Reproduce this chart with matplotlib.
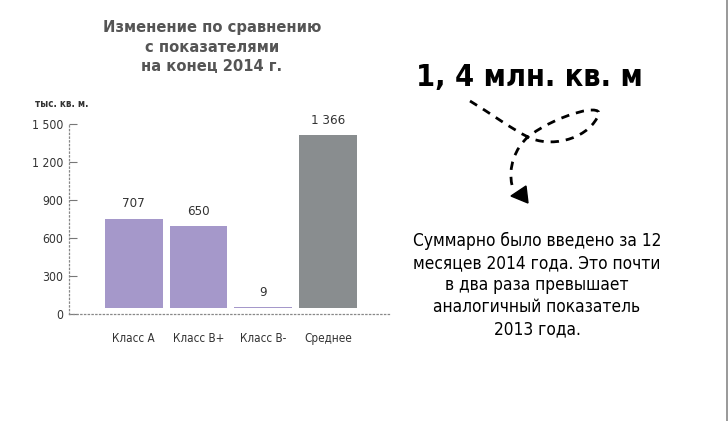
import matplotlib.pyplot as plt
from matplotlib.path import Path
from matplotlib.patches import PathPatch, Polygon
from matplotlib.lines import Line2D

categories = ['Класс А', 'Класс В+', 'Класс В-', 'Среднее']
values = [707, 650, 9, 1366]
value_labels = ['707', '650', '9', '1 366']
yticks = [0, 300, 600, 900, 1200, 1500]
ytick_labels = ['0', '300', '600', '900', '1 200', '1 500']

purple = '#A598CA'
grey = '#898D8F'
bar_colors = [purple, purple, purple, grey]

plt.rcParams['font.family'] = ['DejaVu Sans']
plt.rcParams['font.stretch'] = 'condensed'

W, H = 728, 421
fig = plt.figure(figsize=(W / 100, H / 100), dpi=100)


def fx(px):
    return px / W


def fy(py):
    return 1 - py / H


# main bar chart
ax = fig.add_axes([fx(69), fy(314), fx(390) - fx(69), fy(124) - fy(314)])
x = list(range(len(categories)))
base = 45  # bars in the original float a little above the zero line
ax.bar(x, values, bottom=base, width=0.89, color=bar_colors, zorder=3)

for i, v in enumerate(values):
    ax.annotate(value_labels[i], (x[i], v + base), xytext=(0, 6), textcoords='offset points',
                ha='center', va='bottom', fontsize=9.5, color='#333333', annotation_clip=False)

ax.set_xlim(-1.0, 3.96)
ax.set_ylim(0, 1500)
ax.set_yticks(yticks)
ax.set_yticklabels(ytick_labels)
ax.set_xticks(x)
ax.set_xticklabels(categories)
ax.tick_params(axis='y', direction='in', length=6, width=0.8, color='#777777',
               labelsize=8.7, labelcolor='#333333', pad=4)
ax.tick_params(axis='x', length=0, labelsize=8.4, labelcolor='#333333', pad=13)

for side in ['top', 'right']:
    ax.spines[side].set_visible(False)
for side in ['left', 'bottom']:
    ax.spines[side].set_linestyle((0, (1, 2)))
    ax.spines[side].set_color('#888888')
    ax.spines[side].set_linewidth(0.9)

fig.text(fx(35), fy(104), 'тыс. кв. м.', fontsize=7, fontweight='bold', color='#333333',
         ha='left', va='center')

fig.text(fx(212), fy(47), 'Изменение по сравнению\nс показателями\nна конец 2014 г.',
         ha='center', va='center', fontsize=11.8, fontweight='bold', color='#555555',
         linespacing=1.4)

# right side call-out
fig.text(fx(529), fy(77), '1, 4 млн. кв. м', ha='center', va='center', fontsize=22,
         fontweight='bold', color='black')

fig.text(fx(537), fy(285), 'Суммарно было введено за 12\nмесяцев 2014 года. Это почти\n'
         'в два раза превышает\nаналогичный показатель\n2013 года.',
         ha='center', va='center', fontsize=12.4, color='black', linespacing=1.28)

# dashed loop arrow
pts = [(470, 101), (490, 113), (510, 128), (528, 137),
       (550, 148), (585, 140), (597, 118),
       (610, 100), (555, 115), (528, 137),
       (515, 148), (508, 168), (512, 185)]
codes = [Path.MOVETO] + [Path.CURVE4] * 12
path = Path([(fx(a), fy(b)) for a, b in pts], codes)
fig.patches.append(PathPatch(path, transform=fig.transFigure, fill=False, edgecolor='black',
                             linewidth=2, linestyle=(0, (3, 2.5))))
fig.patches.append(Polygon([(fx(511), fy(196)), (fx(526), fy(186)), (fx(528), fy(203))],
                           closed=True, transform=fig.transFigure, facecolor='black',
                           edgecolor='black'))

# thin frame line on the right edge
fig.lines.append(Line2D([fx(727), fx(727)], [0, 1], transform=fig.transFigure,
                        color='#888888', linewidth=1.2))

fig.savefig('out.png', dpi=100, facecolor='white')
